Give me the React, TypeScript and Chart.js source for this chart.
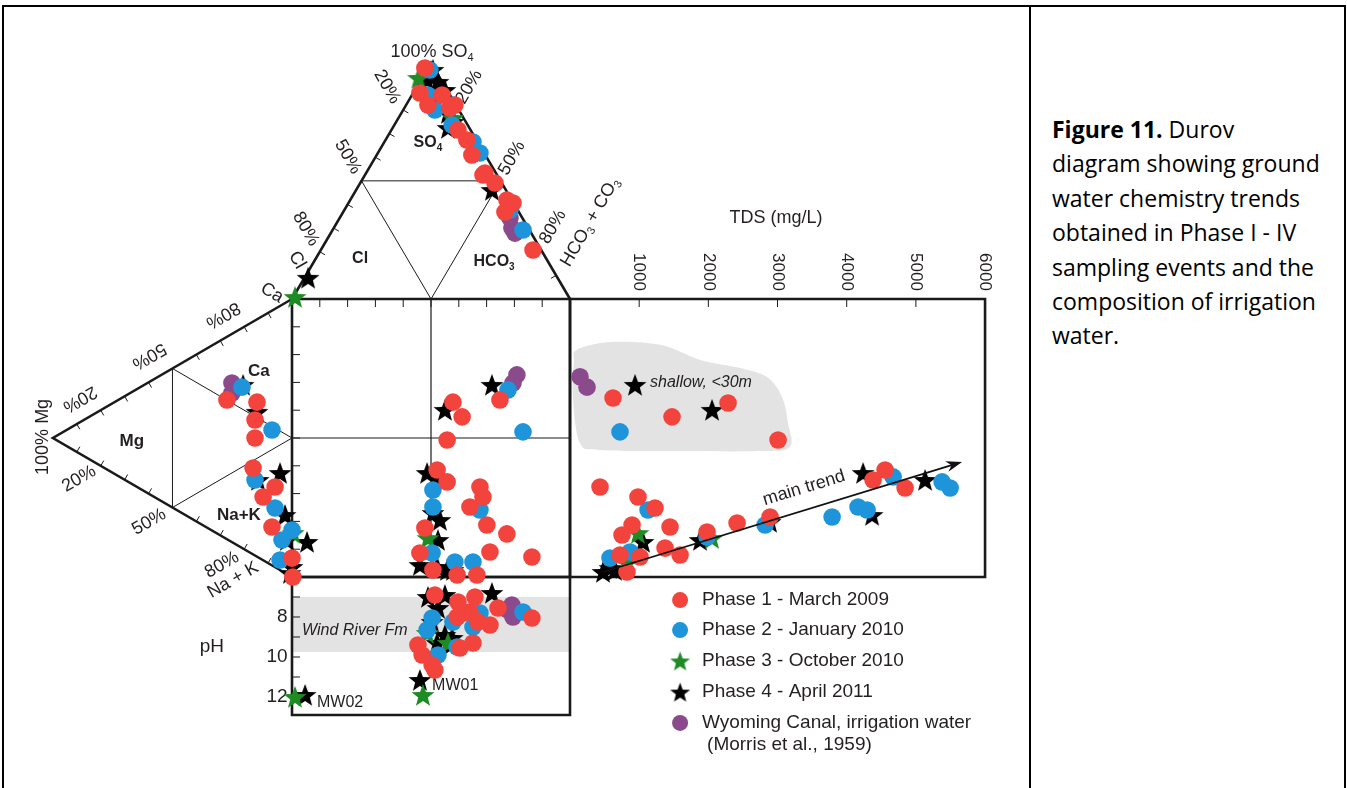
import React, { useEffect, useRef } from "react";
import { Chart, registerables } from "chart.js";
Chart.register(...registerables);

// ---------------- DATA ----------------
// Central square: [anion % (x), cation % (y)]
const phase1Square = [[57.9,62.9],[61.2,57.6],[55.8,49.3],[52.2,38.5],[55.8,34.2],[67.6,32.4],[68.7,28.8],[64.0,25.2],[70.1,18.7],[77.3,15.5],[71.2,9.0],[86.3,7.2],[47.8,17.6],[46.0,8.6],[50.7,2.5],[59.4,0.7],[66.5,0.7],[74.8,63.7]];
const phase2Square = [[77.7,67.3],[83.1,52.2],[50.7,31.3],[50.7,25.2],[67.6,24.1],[50.4,8.6],[58.6,5.4],[65.1,5.4]];
const phase3Square = [[48.9,14.0]];
const phase4Square = [[71.9,69.1],[55.0,60.1],[48.6,37.4],[52.5,35.6],[50.7,23.0],[53.2,20.5],[52.5,13.3],[46.0,4.3],[52.2,3.6],[55.8,2.5],[57.9,2.5]];
const canalSquare = [[80.9,72.7],[79.5,69.8]];

// Anion triangle (diagram units: base 0-100 at y=100, apex at top)
const phase1Anion = [[47.8,183.1],[46.0,174.1],[48.9,169.8],[58.6,169.8],[59.7,160.8],[62.9,157.2],[64.7,151.8],[69.4,145.3],[73.0,141.7],[77.3,135.6],[76.6,131.3],[54.0,173.4],[56.8,168.7],[86.7,117.6],[79.5,134.5],[68.7,144.6]];
const phase2Anion = [[49.6,182.4],[48.9,173.4],[51.4,168.0],[57.9,169.8],[65.1,156.5],[67.6,152.5],[78.4,132.0],[83.1,124.8],[57.6,162.6]];
const phase3Anion = [[45.5,179.5],[57.9,165.1],[1.1,100.7]];
const phase4Anion = [[50.7,182.4],[48.6,178.8],[52.5,178.1],[55.0,175.2],[51.4,170.9],[56.1,166.9],[57.9,163.7],[56.1,161.5],[71.9,139.2],[5.8,107.6]];
const canalAnion = [[78.4,129.1],[79.1,125.5],[80.2,123.7]];

// Cation triangle (diagram units: right edge at x=0, y 0-100, apex to the left)
const phase1Cation = [[-23.4,63.7],[-12.6,62.9],[-13.3,56.5],[-13.3,50.0],[-14.0,39.2],[-6.1,32.4],[-10.4,28.8],[-7.2,18.0],[0.3,0],[0,6.8]];
const phase2Cation = [[-18.0,68.3],[-7.2,52.9],[-13.3,34.9],[-6.1,24.8],[-3.6,13.3],[-4.3,6.1],[0,16.9]];
const phase3Cation = [[0.4,15.8]];
const phase4Cation = [[-17.6,69.1],[-12.6,59.4],[-12.2,34.9],[-4.3,37.4],[-2.5,22.3],[-1.8,13.3],[5.4,12.6],[0,3.6],[-0.7,1.4]];
const canalCation = [[-21.6,69.8],[-21.6,66.2]];

// TDS panel: [TDS mg/L, cation %]
const phase1Tds = [[622,64.4],[1475,57.6],[2285,62.6],[3008,49.3],[434,32.4],[983,28.8],[1229,24.8],[897,18.7],[752,15.1],[1446,18.0],[1374,10.4],[1591,7.9],[1981,16.2],[2415,19.4],[2892,21.6],[4555,38.5],[4381,34.9],[4844,32.0],[824,1.8],[1012,7.2],[723,7.9]];
const phase2Tds = [[723,52.2],[1128,24.1],[578,6.8],[868,9.0],[1981,14.4],[2820,18.7],[3789,21.6],[4164,25.2],[4295,24.1],[4671,36.0],[5379,34.2],[5495,32.0]];
const phase3Tds = [[983,15.8],[2053,14.0],[824,5.0]];
const phase4Tds = [[940,69.1],[2053,60.1],[1056,12.6],[1880,13.3],[2892,19.8],[4237,37.4],[5133,34.9],[4367,22.3],[578,3.2],[651,2.5],[477,1.8]];
const canalTds = [[145,72.0],[246,68.3]];

// pH panel: [anion %, pH]
const phase1Ph = [[51.4,6.9],[59.7,7.25],[65.8,7.0],[64.0,7.75],[61.5,7.8],[74.1,7.55],[86.3,8.05],[45.3,9.4],[46.8,9.9],[50.4,10.4],[51.4,10.65],[71.2,8.4],[65.1,9.3],[60.4,9.55],[59.4,8.0],[66.9,8.25]];
const phase2Ph = [[50.4,8.05],[48.6,8.65],[52.5,9.9],[57.9,8.25],[67.6,7.8],[65.1,8.5],[83.1,7.75],[59.4,9.5]];
const phase3Ph = [[47.1,11.9],[48.6,8.8],[56.1,9.3],[1.1,12.0]];
const phase4Ph = [[48.9,7.0],[55.0,6.9],[71.9,6.8],[50.4,8.25],[52.5,7.55],[55.0,8.9],[57.6,9.05],[52.2,9.3],[56.8,9.4],[46.0,11.15],[4.7,11.9]];
const canalPh = [[77.7,7.65],[79.5,8.0],[79.1,7.4]];

// Axis tick labels
const tdsTicks = [1000, 2000, 3000, 4000, 5000, 6000];
const phTickLabels = [8, 10, 12];
const phTickMarks = [7, 8, 9, 10, 11, 12];

// Annotations in data terms
const windRiverPh = [7.0, 9.75];
const shallowOutline = [[100,81.7],[579,84.5],[1302,83.5],[1881,78.1],[2460,75.2],[2849,71.9],[3066,64.7],[3151,55.4],[3179,46.8],[2745,45.3],[1591,45.3],[434,45.7],[145,48.2],[44,63.7],[56,77.3]];
const mainTrend = [[477,1.8],[5668,41.4]];

const legendNames = ["Phase 1 - March 2009","Phase 2 - January 2010","Phase 3 - October 2010","Phase 4 - April 2011","Wyoming Canal, irrigation water"];

// ---------------- GEOMETRY ----------------
const UNIT = 2.78; // px per square-percent
const X_MIN = -292 / UNIT;
const X_MAX = X_MIN + 1030 / UNIT;
const Y_MAX = 577 / UNIT;
const Y_MIN = Y_MAX - 788 / UNIT;
const TDS_SPAN = 149.3;
const TDS_MAX = 6000;
const PH_TOP = 6;
const PH_STEP = 7.194;
const PH_BOTTOM = 12.9;
const APEX_TOP = 185;
const APEX_LEFT = -86;

const tdsX = (t: number) => 100 + (t / TDS_MAX) * TDS_SPAN;
const phY = (p: number) => -(p - PH_TOP) * PH_STEP;

const RED = "#F2433D";
const BLUE = "#1E95DB";
const GREEN = "#1E8B24";
const BLACK = "#000000";
const PURPLE = "#8B4A8C";
const TXT = "#231f20";
const FONT = '"Liberation Sans", Arial, sans-serif';

type P = number[][];
const pts = (sq: P, an: P, ca: P, tds: P, ph: P) => [
  ...sq.map(([x, y]) => ({ x, y })),
  ...an.map(([x, y]) => ({ x, y })),
  ...ca.map(([x, y]) => ({ x, y })),
  ...tds.map(([t, y]) => ({ x: tdsX(t), y })),
  ...ph.map(([x, p]) => ({ x, y: phY(p) })),
];

function makeStar(color: string, r: number) {
  const c = document.createElement("canvas");
  const s = Math.ceil(r * 2 + 2);
  c.width = s; c.height = s;
  const g = c.getContext("2d")!;
  g.fillStyle = color;
  g.beginPath();
  for (let i = 0; i < 10; i++) {
    const rad = i % 2 === 0 ? r : r * 0.42;
    const a = -Math.PI / 2 + (i * Math.PI) / 5;
    const x = s / 2 + rad * Math.cos(a), y = s / 2 + 1 + rad * Math.sin(a);
    if (i === 0) g.moveTo(x, y); else g.lineTo(x, y);
  }
  g.closePath();
  g.fill();
  return c;
}

type Piece = [string, boolean];
function drawRich(ctx: CanvasRenderingContext2D, pieces: Piece[], x: number, y: number, rot: number, size: number, bold: boolean, italic: boolean, align: string) {
  ctx.save();
  ctx.translate(x, y);
  ctx.rotate((rot * Math.PI) / 180);
  const pre = `${italic ? "italic " : ""}${bold ? "bold " : ""}`;
  const main = `${pre}${size}px ${FONT}`;
  const sub = `${pre}${Math.round(size * 0.62)}px ${FONT}`;
  const widths = pieces.map(([t, s]) => { ctx.font = s ? sub : main; return ctx.measureText(t).width; });
  const total = widths.reduce((a, b) => a + b, 0);
  let cx = align === "center" ? -total / 2 : align === "right" ? -total : 0;
  ctx.textBaseline = "middle";
  ctx.textAlign = "left";
  ctx.fillStyle = TXT;
  pieces.forEach(([t, s], i) => {
    ctx.font = s ? sub : main;
    ctx.fillText(t, cx, s ? size * 0.32 : 0);
    cx += widths[i];
  });
  ctx.restore();
}

// label: pieces, x, y (diagram units), rotation, size, bold, italic, align
type Lbl = [Piece[], number, number, number, number, boolean, boolean, string];
const T = (s: string): Piece[] => [[s, false]];
const LABELS: Lbl[] = [
  [[["100% SO", false], ["4", true]], 50.4, 188.8, 0, 18, false, false, "center"],
  [T("20%"), 34.2, 176.3, 60, 18, false, false, "center"],
  [T("50%"), 20.1, 151.1, 60, 18, false, false, "center"],
  [T("80%"), 5.0, 125.2, 60, 18, false, false, "center"],
  [T("Cl"), 1.8, 114.0, 60, 18, false, false, "center"],
  [T("20%"), 63.7, 176.3, -60, 18, false, false, "center"],
  [T("50%"), 79.1, 150.7, -60, 18, false, false, "center"],
  [T("80%"), 93.9, 125.9, -60, 18, false, false, "center"],
  [[["HCO", false], ["3", true], [" + CO", false], ["3", true]], 107.2, 127.7, -60, 18, false, false, "center"],
  [[["SO", false], ["4", true]], 48.9, 156.1, 0, 16, true, false, "center"],
  [T("Cl"), 24.5, 114.4, 0, 16, true, false, "center"],
  [[["HCO", false], ["3", true]], 72.7, 113.3, 0, 16, true, false, "center"],
  [T("Ca"), -7.2, 102.2, 30, 18, false, false, "center"],
  [T("80%"), -24.8, 94.2, 150, 18, false, false, "center"],
  [T("50%"), -51.4, 79.5, 150, 18, false, false, "center"],
  [T("20%"), -76.3, 64.0, 150, 18, false, false, "center"],
  [T("100% Mg"), -89.6, 50.4, -90, 18, false, false, "center"],
  [T("20%"), -76.6, 35.3, -30, 18, false, false, "center"],
  [T("50%"), -51.4, 19.8, -30, 18, false, false, "center"],
  [T("80%"), -25.2, 4.3, -30, 18, false, false, "center"],
  [T("Na + K"), -21.2, -1.1, -30, 18, false, false, "center"],
  [T("Ca"), -11.9, 74.1, 0, 17, true, false, "center"],
  [T("Mg"), -57.6, 48.9, 0, 17, true, false, "center"],
  [T("Na+K"), -19.1, 22.3, 0, 17, true, false, "center"],
  [T("TDS (mg/L)"), 174.1, 129.1, 0, 18, false, false, "center"],
  [T("pH"), -28.8, -25.2, 0, 19, false, false, "center"],
  [T("Wind River Fm"), 3.6, -19.1, 0, 16, false, true, "left"],
  [T("MW02"), 9.0, -45.0, 0, 16, false, false, "left"],
  [T("MW01"), 50.4, -39.2, 0, 16, false, false, "left"],
  [T("shallow, <30m"), 128.8, 69.8, 0, 16, false, true, "left"],
  [T("main trend"), 184.2, 32.0, -17, 18, false, false, "center"],
];

function smoothClosed(ctx: CanvasRenderingContext2D, p: number[][]) {
  const n = p.length;
  ctx.moveTo(p[0][0], p[0][1]);
  for (let i = 0; i < n; i++) {
    const p0 = p[(i - 1 + n) % n], p1 = p[i], p2 = p[(i + 1) % n], p3 = p[(i + 2) % n];
    ctx.bezierCurveTo(
      p1[0] + (p2[0] - p0[0]) / 6, p1[1] + (p2[1] - p0[1]) / 6,
      p2[0] - (p3[0] - p1[0]) / 6, p2[1] - (p3[1] - p1[1]) / 6,
      p2[0], p2[1]
    );
  }
  ctx.closePath();
}

export default function App() {
  const ref = useRef<HTMLCanvasElement>(null);

  useEffect(() => {
    const canvas = ref.current!;
    const starGreen = makeStar(GREEN, 12);
    const starBlack = makeStar(BLACK, 12);
    const legendStars = [null, null, makeStar(GREEN, 10.5), makeStar(BLACK, 10.5), null];
    const legendColors = [RED, BLUE, GREEN, BLACK, PURPLE];

    const durov = {
      id: "durov",
      beforeDatasetsDraw(chart: any) {
        const ctx: CanvasRenderingContext2D = chart.ctx;
        const X = (v: number) => chart.scales.x.getPixelForValue(v);
        const Y = (v: number) => chart.scales.y.getPixelForValue(v);
        ctx.save();
        // gray areas
        ctx.fillStyle = "#e3e3e3";
        const y1 = Y(phY(windRiverPh[0])), y2 = Y(phY(windRiverPh[1]));
        ctx.fillRect(X(0), y1, X(100) - X(0), y2 - y1);
        ctx.beginPath();
        smoothClosed(ctx, shallowOutline.map(([t, y]) => [X(tdsX(t)), Y(y)]));
        ctx.fill();

        const line = (p: number[][], w: number, close = false) => {
          ctx.lineWidth = w;
          ctx.beginPath();
          p.forEach(([x, y], i) => (i ? ctx.lineTo(X(x), Y(y)) : ctx.moveTo(X(x), Y(y))));
          if (close) ctx.closePath();
          ctx.stroke();
        };
        ctx.strokeStyle = "#1a1a1a";
        ctx.lineCap = "butt";
        // thin inner lines
        const tm = (APEX_TOP + 100) / 2;
        line([[25, tm], [75, tm]], 1);
        line([[25, tm], [50, 100], [75, tm]], 1);
        const lm = APEX_LEFT / 2;
        line([[lm, 75], [lm, 25]], 1);
        line([[lm, 75], [0, 50], [lm, 25]], 1);
        line([[0, 50], [100, 50]], 1.2);
        line([[50, 0], [50, 100]], 1.2);

        // ticks
        ctx.lineWidth = 1;
        const tick = (x: number, y: number, dx: number, dy: number) => {
          ctx.beginPath(); ctx.moveTo(X(x), Y(y)); ctx.lineTo(X(x) + dx, Y(y) + dy); ctx.stroke();
        };
        for (let f = 10; f < 100; f += 10) { tick(0, f, 8, 0); tick(f, 100, 0, 8); }
        tdsTicks.slice(0, 5).forEach((t) => tick(tdsX(t), 100, 0, 8));
        phTickMarks.forEach((p) => tick(0, phY(p), 8, 0));
        const edgeTicks = (a: number[], b: number[], c: number[]) => {
          const ax = X(a[0]), ay = Y(a[1]), bx = X(b[0]), by = Y(b[1]);
          const len = Math.hypot(bx - ax, by - ay);
          let nx = -(by - ay) / len, ny = (bx - ax) / len;
          const mx = (ax + bx) / 2, my = (ay + by) / 2;
          if ((X(c[0]) - mx) * nx + (Y(c[1]) - my) * ny < 0) { nx = -nx; ny = -ny; }
          for (let i = 1; i < 10; i++) {
            if (i === 5) continue;
            const px = ax + ((bx - ax) * i) / 10, py = ay + ((by - ay) * i) / 10;
            ctx.beginPath(); ctx.moveTo(px, py); ctx.lineTo(px + nx * 6, py + ny * 6); ctx.stroke();
          }
        };
        edgeTicks([0, 100], [50, APEX_TOP], [50, 130]);
        edgeTicks([100, 100], [50, APEX_TOP], [50, 130]);
        edgeTicks([0, 100], [APEX_LEFT, 50], [-30, 50]);
        edgeTicks([0, 0], [APEX_LEFT, 50], [-30, 50]);

        // thick outlines
        ctx.lineJoin = "miter";
        line([[0, 100], [50, APEX_TOP], [100, 100]], 2.6);
        line([[0, 100], [APEX_LEFT, 50], [0, 0]], 2.6);
        line([[0, 0], [0, 100], [100, 100], [100, 0]], 2.6, true);
        line([[100, 0], [100, 100], [tdsX(TDS_MAX), 100], [tdsX(TDS_MAX), 0]], 2.6, true);
        line([[0, 0], [0, phY(PH_BOTTOM)], [100, phY(PH_BOTTOM)], [100, 0]], 2.6, true);

        // text labels
        LABELS.forEach(([pc, x, y, r, s, b, it, al]) => drawRich(ctx, pc, X(x), Y(y), r, s, b, it, al));
        tdsTicks.forEach((t) => drawRich(ctx, T(String(t)), X(tdsX(t)), Y(109.7), 90, 17, false, false, "center"));
        phTickLabels.forEach((p) => drawRich(ctx, T(String(p)), X(-1.6), Y(phY(p)), 0, 19, false, false, "right"));
        ctx.restore();
      },
      afterDatasetsDraw(chart: any) {
        const ctx: CanvasRenderingContext2D = chart.ctx;
        const X = (v: number) => chart.scales.x.getPixelForValue(v);
        const Y = (v: number) => chart.scales.y.getPixelForValue(v);
        ctx.save();
        // main trend arrow
        const x1 = X(tdsX(mainTrend[0][0])), y1 = Y(mainTrend[0][1]);
        const x2 = X(tdsX(mainTrend[1][0])), y2 = Y(mainTrend[1][1]);
        const ang = Math.atan2(y2 - y1, x2 - x1);
        ctx.strokeStyle = "#111"; ctx.fillStyle = "#111"; ctx.lineWidth = 1.8;
        ctx.beginPath(); ctx.moveTo(x1, y1); ctx.lineTo(x2 - 10 * Math.cos(ang), y2 - 10 * Math.sin(ang)); ctx.stroke();
        ctx.beginPath();
        ctx.moveTo(x2, y2);
        ctx.lineTo(x2 - 16 * Math.cos(ang) + 5.5 * Math.sin(ang), y2 - 16 * Math.sin(ang) - 5.5 * Math.cos(ang));
        ctx.lineTo(x2 - 11 * Math.cos(ang), y2 - 11 * Math.sin(ang));
        ctx.lineTo(x2 - 16 * Math.cos(ang) - 5.5 * Math.sin(ang), y2 - 16 * Math.sin(ang) + 5.5 * Math.cos(ang));
        ctx.closePath(); ctx.fill();

        // legend
        const lx = X(139.6), tx = X(147.5);
        const rows = [-8.3, -19.1, -30.2, -41.4, -52.5];
        legendNames.forEach((name, i) => {
          const cy = Y(rows[i]);
          const st = legendStars[i];
          if (st) ctx.drawImage(st, lx - st.width / 2, cy - st.height / 2);
          else { ctx.fillStyle = legendColors[i]; ctx.beginPath(); ctx.arc(lx, cy, 8, 0, Math.PI * 2); ctx.fill(); }
          drawRich(ctx, T(name), tx, cy, 0, 19, false, false, "left");
        });
        drawRich(ctx, T("(Morris et al., 1959)"), X(149.3), Y(-60.4), 0, 19, false, false, "left");
        ctx.restore();
      },
    };

    const circle = (label: string, data: any[], color: string) => ({
      label, data, pointStyle: "circle", pointRadius: 8.8, backgroundColor: color, borderWidth: 0, showLine: false,
    });
    const star = (label: string, data: any[], img: HTMLCanvasElement) => ({
      label, data, pointStyle: img, pointRadius: 12, backgroundColor: "#000", borderWidth: 0, showLine: false,
    });

    const chart = new Chart(canvas, {
      type: "scatter",
      data: {
        datasets: [
          circle(legendNames[0], pts(phase1Square, phase1Anion, phase1Cation, phase1Tds, phase1Ph), RED),
          circle(legendNames[1], pts(phase2Square, phase2Anion, phase2Cation, phase2Tds, phase2Ph), BLUE),
          circle(legendNames[4], pts(canalSquare, canalAnion, canalCation, canalTds, canalPh), PURPLE),
          star(legendNames[2], pts(phase3Square, phase3Anion, phase3Cation, phase3Tds, phase3Ph), starGreen),
          star(legendNames[3], pts(phase4Square, phase4Anion, phase4Cation, phase4Tds, phase4Ph), starBlack),
        ] as any,
      },
      options: {
        responsive: false,
        animation: false,
        events: [],
        layout: { padding: 0, autoPadding: false },
        plugins: { legend: { display: false }, tooltip: { enabled: false }, title: { display: false } },
        scales: {
          x: { type: "linear", min: X_MIN, max: X_MAX, display: false },
          y: { type: "linear", min: Y_MIN, max: Y_MAX, display: false },
        },
      } as any,
      plugins: [durov as any],
    });
    return () => chart.destroy();
  }, []);

  return (
    <div style={{ position: "absolute", left: 0, top: 0, width: 1347, height: 788, background: "#fff", overflow: "hidden" }}>
      <canvas ref={ref} width={1030} height={788} style={{ position: "absolute", left: 0, top: 0, width: 1030, height: 788 }} />
      <div style={{ position: "absolute", left: 3, top: 5, width: 1343, height: 2, background: "#000" }} />
      <div style={{ position: "absolute", left: 2, top: 5, width: 2, height: 783, background: "#000" }} />
      <div style={{ position: "absolute", left: 1029, top: 5, width: 2, height: 783, background: "#000" }} />
      <div style={{ position: "absolute", left: 1344, top: 5, width: 2, height: 783, background: "#000" }} />
      <div style={{ position: "absolute", left: 1052, top: 112, fontFamily: '"Open Sans", sans-serif', fontSize: 23, lineHeight: "34.4px", color: "#000", whiteSpace: "nowrap" }}>
        <b>Figure 11.</b> Durov<br />diagram showing ground<br />water chemistry trends<br />obtained in Phase I - IV<br />sampling events and the<br />composition of irrigation<br />water.
      </div>
    </div>
  );
}
